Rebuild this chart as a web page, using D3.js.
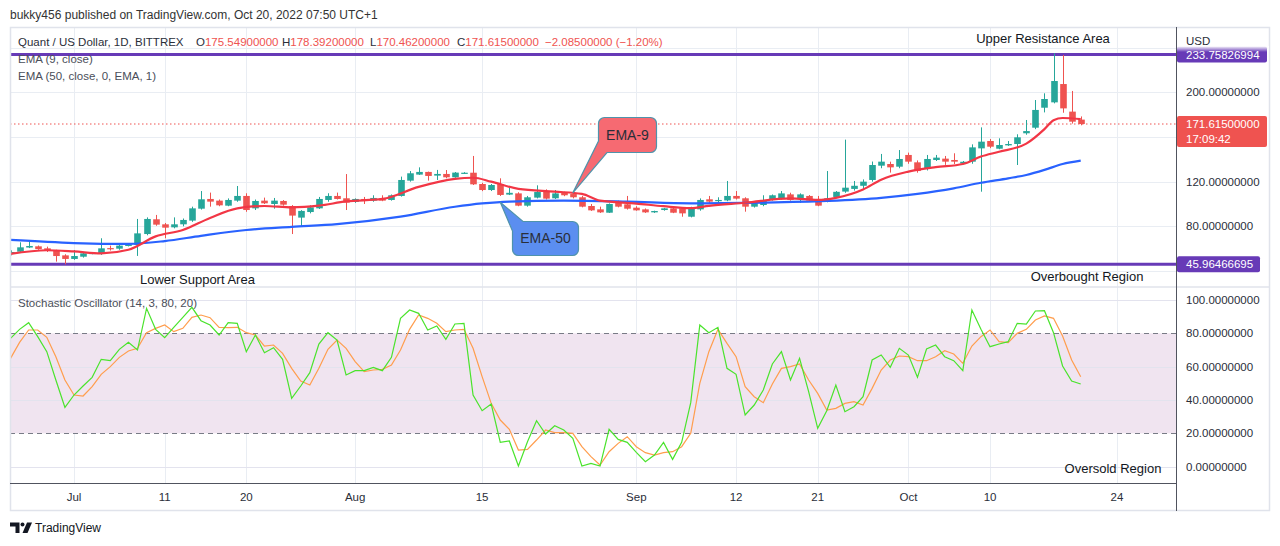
<!DOCTYPE html>
<html>
<head>
<meta charset="utf-8">
<script src="https://cdn.jsdelivr.net/npm/d3@7"></script>
<style>
  body { margin: 0; background: #fff; }
  svg { display: block; font-family: "Liberation Sans", Arial, sans-serif; }
</style>
</head>
<body>
<svg id="chart" width="1280" height="546"></svg>
<script>
// daily candles, Jun 24 .. Oct 20 2022
const firstDay = new Date(2022, 5, 24);
const opens = [55.5,57.3,61,62.1,60.3,58.2,54,
  50.8,52.8,55.5,55.3,60.5,60,62.4,63.3,73.1,86.3,
  81.8,79.1,81.8,85.1,95.8,104.5,103,98.5,103,107.2,
  96.1,103,100,102.7,98.2,87.8,92.8,96.1,103.6,107.2,
  105.1,101.8,104.5,103,105.1,103.6,107.2,120.9,126.3,128.7,
  125.4,126.9,123.9,127.5,128,117.9,112.5,117.9,108.4,109.5,
  98.5,105.7,111,105.1,110,108.9,106,98.2,95.2,92.2,
  101.2,99.7,96.7,95.2,92.5,94.6,96.1,96.1,88.6,95.2,
  104.2,103.4,103.2,107.2,105.1,97.6,99.1,103.6,104.8,108.6,
  105.1,107.2,104.2,102.1,106.3,111.1,113.5,116.3,121.5,134.3,
  135.8,133.4,143.9,137.3,131.9,139.4,140.6,139.4,136.3,137.9,
  149.8,156.4,149.5,152.5,153.7,163.3,168.3,186.2,191,207.4,
  182.7,175.549];
const highs = [58.5,65.7,66.9,62.8,61.8,59,55,
  58.8,57,56.8,69.3,62.7,63.5,64.5,86.6,88,90.2,
  83,88,87,97.6,111.6,110.2,104,105,116.1,109.6,
  104,105.7,105.4,103.5,99,94.5,98.8,106.3,109.6,110.2,
  126.8,105,106.3,107.8,107.8,108.5,124.5,129.5,132.8,129,
  130.5,130.4,128.6,128.5,143,119,117.9,123,114.9,110.5,
  107.2,116.7,113.1,112.5,111,110,107.2,100,97.6,100.5,
  103,107.2,98,96,94,96.5,96.8,97,97.5,105,
  107.2,106,120.6,111.6,106,101.8,107.8,108.5,111.6,110.1,
  109.5,108,107.2,129.5,111.6,157.6,120.6,122,138,144.8,
  137.9,148.3,146,139,143.9,143.9,143,145.4,138.5,153.4,
  168.6,158.2,158.8,156.4,162.4,175.2,193.1,199.1,234.9,233.4,
  201.2,178.392];
const lows = [54,56.5,60.5,59,57,48.4,46,
  50,52,55,54.5,58.3,59,62,53.5,72,80.5,
  69.3,78.2,80,84,95,97.6,98,98,102,93,
  94.6,100,95.8,98.5,73.1,79.7,91.6,95.5,102,104,
  94.6,101,100,102,102.5,103,106.6,120,126,120.9,
  121.5,123,123.5,127,117,111.5,111.6,107.2,108,98,
  97.6,105,104,104.5,107,105,97,93.8,92,92,
  97,95,94,92,92,94,91.8,88.6,88,94,
  101,101,102.5,104,93.1,96.8,98,103,104,103,
  101,102,98,101.5,105.5,110,112,112.5,120,132,
  128.1,132,136,128,130,138.5,135,135.8,135.5,136,
  111,150,149,152,134.9,162,167,182,190.1,181.7,
  172,170.462];
const closes = [57,61.2,62.4,59.7,58.2,53.4,50.8,
  53.4,55.8,56.2,60.3,60,62.7,63.9,73.7,86.6,81.5,
  78.8,81.8,85.7,96.1,104.2,102.1,98.8,103.6,107.2,94.6,
  102.7,100.6,103,99.4,89.6,93.8,97,104.5,107.2,104.5,
  101.2,104.5,103,105.4,103,107.8,121.5,127.5,128.7,125.1,
  126.9,123.9,128.1,128,117.6,112.5,117,108.1,110,98.5,
  106,110.7,104.8,109.5,107.8,106,97.6,94.3,92.5,100,
  97.6,95.8,94.3,92.5,93.7,96.1,92.2,91.6,96.7,103.6,
  102.1,103.6,107.2,104.8,97.6,101.2,103.6,107.8,109.5,103.6,
  108.6,103,98.5,105.1,110.9,114.6,116.3,120,134.9,137.9,
  132.8,140.3,137.9,129.5,140.3,141.5,137.9,137.9,137.8,150.7,
  155.8,151.3,152.8,153.7,159.7,165.3,184.2,194,210.1,185.6,
  173.7,171.615];

// EMA lines, days counted from Jul 1
const ema9Days = [-7,-3,0,3,6,9,12,15,18,21,24,27,30,34,38,42,44,46,49,53,56,58,62,65,68,70,74,79,82,84,87,89,92,95,98,100,102,105,107,108,109,111];
const ema9Values = [55.3,58.6,57.5,55.8,59,71,76.7,87.5,96.1,98.2,97,98.5,102.3,104.5,115.3,122.5,123.5,120,113.5,111,109,103,100.4,98,96.3,98.3,101.1,105,103.6,105.5,113,121.8,129,133,135.8,142.5,146.8,154,167,175,177,176];
const ema50Days = [-7,0,6,10,14,19,24,29,36,42,45,48,54,61,68,76,83,89,93,97,100,103,105,107,109,111];
const ema50Values = [67.8,65,64.2,66.8,71.5,76.7,79.5,82,88.7,97.5,100.5,102.2,103,102.1,100.6,101.2,102.7,105.5,109,114,119,123,126,130.5,135.8,138.8];

// stochastic %K and %D, one per candle
const stochK = [77,82.4,86.4,78,69,52,35.6,
  43,48.4,53.6,64.4,63.6,70.4,74.6,70,95,82.4,
  77.4,83.6,89.6,95.6,87.6,85,79,86.4,86,69,
  79,68.4,71.4,64.4,41,48.4,56.4,73.6,80.4,76,
  55,57.6,57.6,59.6,57.6,65.6,89,94,92,82,
  84.4,76.4,85.6,86,43,33.6,37.6,14.6,15.4,0.4,
  15,27.6,19.6,24.6,22,17,0.4,2,0.4,22.4,
  16.4,14.6,8.6,3,7,14.6,4.4,14.6,38.4,85,
  80.4,83.6,59,55.4,31,37,46,61.6,69,52,
  65,45,23,33.6,49,33,36,42,64,67,
  59.6,71,67,53.6,70.6,73,66,63.6,57.6,94,
  82.4,72,73.6,75,86,85.6,93.4,93.6,80.4,60.4,
  51.4,49.6];
const stochD = [65,74.6,82,82,77.6,66,52,
  43,42.4,48,55.4,60,65.6,69.4,71,80.4,83,
  85,81,83,89.6,91,89.4,83.6,83.4,83.6,80.4,
  79,72.4,73,68,59,51.4,49,59,70.4,76,
  71,63,57,58,58.4,61,70,82.4,91,89,
  86,81,82,82.4,71,54,38,28,22.4,10,
  10.4,16,22,20.4,20.4,20,12,6,1,9,
  14,18,12,8.4,7,8.4,9,12,20,50,
  69,82.4,74,66,48,42,38.4,49.6,59,60,
  61.6,52,44,34,35,38,39,37,47,58,
  64,66.4,66,63.6,63.6,66,69.6,67.6,62,72.4,
  78,82,75,74.4,80,82.4,88,90.4,89,78.4,
  64,54];

const tickDays = [0,10,19,31,45,62,73,82,92,101,115];
const tickLabels = ["Jul","11","20","Aug","15","Sep","12","21","Oct","10","24"];
const priceTicks = [80,120,200];          // 40, 160 and 240 sit under the tags
const priceGrid = [40,80,120,160,200,240];
const stochTicks = [0,20,40,60,80,100];
const upperLevel = 233.75826994;
const lowerLevel = 45.96466695;
const lastClose = 171.615;

const green = "#26a69a", red = "#ef5350";
const svg = d3.select("#chart");
const julFirst = new Date(2022, 6, 1);
const dayDate = d => d3.timeDay.offset(julFirst, d);

// layout
const left = 10, plotRight = 1176, outerRight = 1270;
const priceTop = 27, priceBottom = 287, stochTop = 288, stochBottom = 483, axisBottom = 511;

const x = d3.scaleTime().domain([julFirst, dayDate(115)]).range([74, 1117]);
const y = d3.scaleLinear().domain([40, 200]).range([271, 92.3]);
const ys = d3.scaleLinear().domain([0, 100]).range([466.7, 300]);

const candles = opens.map((o, i) => ({
  date: d3.timeDay.offset(firstDay, i), o, h: highs[i], l: lows[i], c: closes[i]
}));

const defs = svg.append("defs");
defs.append("clipPath").attr("id", "clipPrice").append("rect")
  .attr("x", left).attr("y", priceTop).attr("width", plotRight - left).attr("height", priceBottom - priceTop);
defs.append("clipPath").attr("id", "clipStoch").append("rect")
  .attr("x", left).attr("y", stochTop).attr("width", plotRight - left).attr("height", stochBottom - stochTop);
const grad = defs.append("linearGradient").attr("id", "fadeTop").attr("x1", 0).attr("y1", 0).attr("x2", 0).attr("y2", 1);
grad.append("stop").attr("offset", "0%").attr("stop-color", "#fff").attr("stop-opacity", 1);
grad.append("stop").attr("offset", "100%").attr("stop-color", "#fff").attr("stop-opacity", 0);

// credit line
svg.append("text").attr("x", 10).attr("y", 19).attr("font-size", 12).attr("fill", "#333")
  .text("bukky456 published on TradingView.com, Oct 20, 2022 07:50 UTC+1");

// grid
const grid = svg.append("g").attr("stroke", "#e9edf3").attr("stroke-width", 1);
tickDays.forEach(d => {
  const gx = Math.round(x(dayDate(d))) + 0.5;
  grid.append("line").attr("x1", gx).attr("x2", gx).attr("y1", priceTop).attr("y2", stochBottom);
});
priceGrid.forEach(v => {
  const gy = Math.round(y(v)) + 0.5;
  grid.append("line").attr("x1", left).attr("x2", plotRight).attr("y1", gy).attr("y2", gy);
});

// stochastic band
const stochG = svg.append("g").attr("clip-path", "url(#clipStoch)");
stochG.append("rect").attr("x", left).attr("width", plotRight - left)
  .attr("y", ys(80)).attr("height", ys(20) - ys(80)).attr("fill", "#f0e4f0");
stochTicks.forEach(v => {
  const gy = Math.round(ys(v)) + 0.5;
  stochG.append("line").attr("x1", left).attr("x2", plotRight).attr("y1", gy).attr("y2", gy)
    .attr("stroke", v === 20 || v === 80 ? "#787b86" : "#e3e3ee")
    .attr("stroke-dasharray", v === 20 || v === 80 ? "5,4" : null);
});
const kLine = d3.line().x((v, i) => x(candles[i].date)).y(v => ys(v));
stochG.append("path").attr("d", kLine(stochD)).attr("fill", "none").attr("stroke", "#ff9d4d").attr("stroke-width", 1.2);
stochG.append("path").attr("d", kLine(stochK)).attr("fill", "none").attr("stroke", "#4ae32c").attr("stroke-width", 1.2);

// price pane
const priceG = svg.append("g").attr("clip-path", "url(#clipPrice)");
priceG.append("line").attr("x1", left).attr("x2", plotRight)
  .attr("y1", y(lastClose)).attr("y2", y(lastClose))
  .attr("stroke", red).attr("stroke-dasharray", "1.5,2.5");
[upperLevel, lowerLevel].forEach(v => {
  priceG.append("line").attr("x1", left).attr("x2", plotRight).attr("y1", y(v)).attr("y2", y(v))
    .attr("stroke", "#673ab7").attr("stroke-width", 3);
});

const bodyW = 6.6;
const cg = priceG.selectAll("g.candle").data(candles).join("g").attr("class", "candle")
  .attr("fill", d => d.c >= d.o ? green : red).attr("stroke", d => d.c >= d.o ? green : red);
cg.append("line").attr("x1", d => Math.round(x(d.date)) + 0.5).attr("x2", d => Math.round(x(d.date)) + 0.5)
  .attr("y1", d => y(d.h)).attr("y2", d => y(d.l)).attr("stroke-width", 1);
cg.append("rect").attr("stroke", "none")
  .attr("x", d => Math.round(x(d.date)) + 0.5 - bodyW / 2).attr("width", bodyW)
  .attr("y", d => y(Math.max(d.o, d.c)))
  .attr("height", d => Math.max(1.2, Math.abs(y(d.o) - y(d.c))));

const emaLine = d3.line().curve(d3.curveMonotoneX);
priceG.append("path")
  .attr("d", emaLine(ema50Days.map((d, i) => [x(dayDate(d)), y(ema50Values[i])])))
  .attr("fill", "none").attr("stroke", "#2962ff").attr("stroke-width", 2.2);
priceG.append("path")
  .attr("d", emaLine(ema9Days.map((d, i) => [x(dayDate(d)), y(ema9Values[i])])))
  .attr("fill", "none").attr("stroke", "#f23645").attr("stroke-width", 2.2);

// pane frames and separators
svg.append("rect").attr("x", left + 0.5).attr("y", priceTop + 0.5)
  .attr("width", outerRight - left - 1).attr("height", axisBottom - priceTop - 1)
  .attr("fill", "none").attr("stroke", "#e0e3eb").attr("stroke-width", 1.5);
svg.append("line").attr("x1", left).attr("x2", outerRight).attr("y1", priceBottom).attr("y2", priceBottom)
  .attr("stroke", "#e0e3eb").attr("stroke-width", 1.5);
svg.append("line").attr("x1", left).attr("x2", plotRight).attr("y1", stochBottom + 0.5).attr("y2", stochBottom + 0.5)
  .attr("stroke", "#50535e").attr("stroke-width", 1);
svg.append("line").attr("x1", plotRight + 0.5).attr("x2", plotRight + 0.5).attr("y1", priceTop).attr("y2", axisBottom)
  .attr("stroke", "#50535e").attr("stroke-width", 1);

// price axis labels
const fmt = d3.format(".8f");
const axisText = svg.append("g").attr("font-size", 11.5).attr("fill", "#2a2e39");
priceTicks.forEach(v => {
  axisText.append("text").attr("x", 1186).attr("y", y(v)).attr("dy", "0.35em").text(fmt(v));
});
stochTicks.forEach(v => {
  axisText.append("text").attr("x", 1186).attr("y", ys(v)).attr("dy", "0.35em").text(fmt(v));
});
axisText.append("text").attr("x", 1186).attr("y", 41).attr("dy", "0.35em").text("USD");

// x axis labels
const xText = svg.append("g").attr("font-size", 11.5).attr("fill", "#2a2e39").attr("text-anchor", "middle");
tickDays.forEach((d, i) => {
  xText.append("text").attr("x", x(dayDate(d))).attr("y", 497).attr("dy", "0.35em").text(tickLabels[i]);
});

// level tags on the price axis
function tag(v, text, color, w, h) {
  const ty = y(v);
  svg.append("rect").attr("x", plotRight + 1).attr("y", ty - h / 2).attr("width", w).attr("height", h)
    .attr("rx", 2).attr("fill", color);
  svg.append("text").attr("x", 1186).attr("y", ty).attr("dy", "0.35em")
    .attr("font-size", 11.5).attr("fill", "#fff").text(text);
}
tag(upperLevel, fmt(upperLevel), "#673ab7", 90, 16);
svg.append("rect").attr("x", plotRight + 1).attr("y", 46).attr("width", 92).attr("height", 6).attr("fill", "url(#fadeTop)");
tag(lowerLevel, fmt(lowerLevel), "#673ab7", 83, 16);

const cy = y(lastClose);
svg.append("rect").attr("x", plotRight + 1).attr("y", cy - 8).attr("width", 90).attr("height", 31)
  .attr("rx", 2).attr("fill", red);
svg.append("text").attr("x", 1186).attr("y", cy).attr("dy", "0.35em").attr("font-size", 11.5)
  .attr("fill", "#fff").text(fmt(lastClose));
svg.append("text").attr("x", 1186).attr("y", cy + 15).attr("dy", "0.35em").attr("font-size", 11.5)
  .attr("fill", "#fff").text("17:09:42");

// legend header
const head = svg.append("text").attr("y", 42).attr("dy", "0.35em").attr("font-size", 11.5).attr("fill", "#2a2e39");
head.append("tspan").attr("x", 18).text("Quant / US Dollar, 1D, BITTREX");
[["O", "175.54900000", 196], ["H", "178.39200000", 282], ["L", "170.46200000", 370], ["C", "171.61500000", 457]]
  .forEach(([k, val, px]) => {
    head.append("tspan").attr("x", px).text(k);
    head.append("tspan").attr("fill", red).text(val);
  });
head.append("tspan").attr("x", 545).attr("fill", red).text("\u22122.08500000 (\u22121.20%)");

const legend = svg.append("g").attr("font-size", 11.5).attr("fill", "#4a4e59");
legend.append("text").attr("x", 18).attr("y", 59).attr("dy", "0.35em").text("EMA (9, close)");
legend.append("text").attr("x", 18).attr("y", 76).attr("dy", "0.35em").text("EMA (50, close, 0, EMA, 1)");
legend.append("text").attr("x", 18).attr("y", 303).attr("dy", "0.35em").text("Stochastic Oscillator (14, 3, 80, 20)");

// annotations
const notes = svg.append("g").attr("font-size", 13).attr("fill", "#131722");
notes.append("text").attr("x", 1043).attr("y", 38).attr("dy", "0.35em").attr("text-anchor", "middle").text("Upper Resistance Area");
notes.append("text").attr("x", 140).attr("y", 279).attr("dy", "0.35em").text("Lower Support Area");
notes.append("text").attr("x", 1087).attr("y", 276).attr("dy", "0.35em").attr("text-anchor", "middle").text("Overbought Region");
notes.append("text").attr("x", 1113).attr("y", 468).attr("dy", "0.35em").attr("text-anchor", "middle").text("Oversold Region");

// callouts
function bubble(x0, y0, x1, y1, r, pathTail, fill, label) {
  svg.append("path").attr("d", pathTail(x0, y0, x1, y1, r))
    .attr("fill", fill).attr("stroke", "#4f93ab").attr("stroke-width", 1.2);
  svg.append("text").attr("x", (x0 + x1) / 2).attr("y", (y0 + y1) / 2).attr("dy", "0.35em")
    .attr("text-anchor", "middle").attr("font-size", 14).attr("fill", "#2a2e39").text(label);
}
// EMA-9: tail leaves the lower left corner
bubble(598.5, 117.5, 656.5, 152.5, 6, (x0, y0, x1, y1, r) =>
  `M${x0 + r},${y0}H${x1 - r}A${r},${r} 0 0 1 ${x1},${y0 + r}V${y1 - r}A${r},${r} 0 0 1 ${x1 - r},${y1}` +
  `H607L${x(dayDate(55))},${y(110)}L${x0},141V${y0 + r}A${r},${r} 0 0 1 ${x0 + r},${y0}Z`,
  "#f66a72", "EMA-9");
// EMA-50: tail leaves the upper left corner
bubble(512.5, 221.5, 578.5, 255.5, 6, (x0, y0, x1, y1, r) =>
  `M523,${y0}H${x1 - r}A${r},${r} 0 0 1 ${x1},${y0 + r}V${y1 - r}A${r},${r} 0 0 1 ${x1 - r},${y1}` +
  `H${x0 + r}A${r},${r} 0 0 1 ${x0},${y1 - r}V231L${x(dayDate(47))},${y(101.5)}Z`,
  "#5b8ef0", "EMA-50");

// footer logo
const logo = svg.append("g").attr("fill", "#131722");
logo.append("path").attr("d", "M10,522.5H19.5V533H15.5V526.5H10Z");
logo.append("circle").attr("cx", 22.5).attr("cy", 524.5).attr("r", 2);
logo.append("path").attr("d", "M27,522.5H32L27.5,533H22.5Z");
svg.append("text").attr("x", 35).attr("y", 528).attr("dy", "0.35em").attr("font-size", 12)
  .attr("fill", "#131722").text("TradingView");
</script>
</body>
</html>
